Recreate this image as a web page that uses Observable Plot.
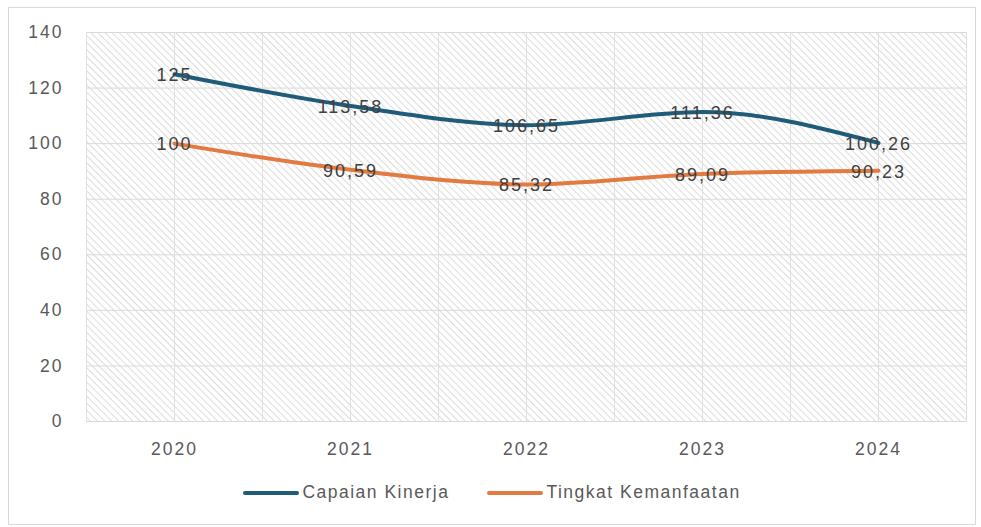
<!DOCTYPE html>
<html>
<head>
<meta charset="utf-8">
<script src="https://cdn.jsdelivr.net/npm/d3@7"></script>
<script src="https://cdn.jsdelivr.net/npm/@observablehq/plot@0.6"></script>
<style>
  body { margin: 0; background: #fff; font-family: "Liberation Sans", Arial, sans-serif; }
  #box { position: absolute; left: 8px; top: 7px; width: 966px; height: 516px; border: 1px solid #d9d9d9; background: #fff; }
  #legend { position: absolute; left: 0; top: 474px; width: 966px; display: flex; justify-content: center; gap: 38px; font-size: 17.5px; letter-spacing: 1.5px; color: #595959; }
  .item { display: flex; align-items: center; }
  .sw { width: 56px; height: 4px; margin-right: 3px; border-radius: 2px; }
</style>
</head>
<body>
<div id="box"><div id="chart"></div><div id="legend"></div></div>
<script>
const years = [2020, 2021, 2022, 2023, 2024];
const capaianKinerja = [125, 113.58, 106.65, 111.36, 100.26];
const tingkatKemanfaatan = [100, 90.59, 85.32, 89.09, 90.23];
const seriesNames = ["Capaian Kinerja", "Tingkat Kemanfaatan"];
const seriesColors = ["#1f5c7a", "#e27a41"];
const yTicks = [0, 20, 40, 60, 80, 100, 120, 140];

const data = [
  ...years.map((yr, i) => ({year: yr, value: capaianKinerja[i], series: seriesNames[0]})),
  ...years.map((yr, i) => ({year: yr, value: tingkatKemanfaatan[i], series: seriesNames[1]}))
];
const fmt = v => String(v).replace(".", ",");
const xGrid = years.flatMap(y => [y - 0.5, y]).concat([years[years.length - 1] + 0.5]);

const chart = Plot.plot({
  width: 966,
  height: 460,
  marginLeft: 77,
  marginRight: 9,
  marginTop: 24,
  marginBottom: 47,
  style: {fontFamily: "Liberation Sans, Arial, sans-serif", fontSize: "17.5px", color: "#595959", letterSpacing: "2px"},
  x: {domain: [years[0] - 0.5, years[years.length - 1] + 0.5]},
  y: {domain: [0, 140]},
  color: {domain: seriesNames, range: seriesColors},
  marks: [
    Plot.frame({fill: "url(#hatch)", stroke: "#d9d9d9"}),
    Plot.gridY(yTicks, {stroke: "#d9d9d9", strokeOpacity: 1}),
    Plot.gridX(xGrid, {stroke: "#e0e0e0", strokeOpacity: 1}),
    Plot.axisX(years, {tickSize: 0, tickPadding: 21, tickFormat: d => String(d), label: null, fill: "#595959"}),
    Plot.axisY(yTicks, {tickSize: 0, tickPadding: 23, label: null, fill: "#595959"}),
    Plot.line(data, {x: "year", y: "value", z: "series", stroke: "series", strokeWidth: 4, curve: "monotone-x"}),
    Plot.text(data, {x: "year", y: "value", text: d => fmt(d.value), fill: "#404040", fontSize: 18, dy: 1, style: {letterSpacing: "1px"}})
  ]
});

const svg = d3.select(chart);
const defs = svg.insert("defs", ":first-child");
const pat = defs.append("pattern").attr("id", "hatch").attr("patternUnits", "userSpaceOnUse")
  .attr("width", 5).attr("height", 5).attr("patternTransform", "rotate(-45)");
pat.append("rect").attr("width", 5).attr("height", 5).attr("fill", "#ffffff");
pat.append("line").attr("x1", 0).attr("y1", 0).attr("x2", 0).attr("y2", 5).attr("stroke", "#d4d4d4").attr("stroke-width", 1.6);

document.getElementById("chart").appendChild(chart);

const legend = document.getElementById("legend");
seriesNames.forEach((name, i) => {
  const it = document.createElement("div");
  it.className = "item";
  it.innerHTML = `<span class="sw" style="background:${seriesColors[i]}"></span><span>${name}</span>`;
  legend.appendChild(it);
});
</script>
</body>
</html>
